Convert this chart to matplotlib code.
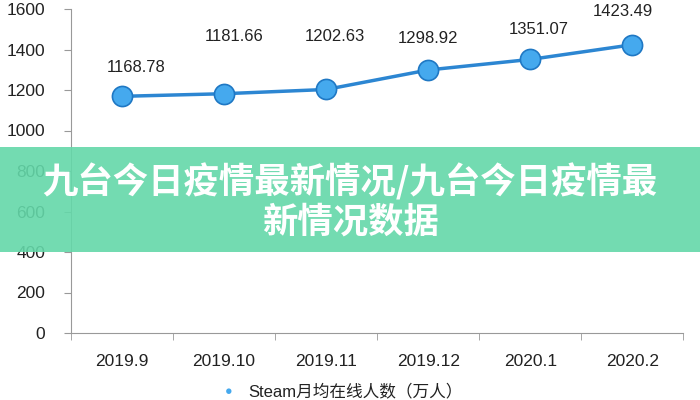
import matplotlib
matplotlib.use("Agg")
import matplotlib.pyplot as plt
from matplotlib.patches import Rectangle

plt.rcParams['font.family'] = ['Liberation Sans', 'Noto Sans CJK SC', 'DejaVu Sans']

months = ['2019.9', '2019.10', '2019.11', '2019.12', '2020.1', '2020.2']
players = [1168.78, 1181.66, 1202.63, 1298.92, 1351.07, 1423.49]
# value labels sit a bit irregularly in the source: offsets in points (dx, dy)
label_dx = [10, 7, 6, 0, 6, -7]
label_dy = [15, 36, 33, 17.5, 16, 18.5]
y_ticks = [0, 200, 400, 600, 800, 1000, 1200, 1400, 1600]
legend_text = 'Steam月均在线人数（万人）'
banner_text = '九台今日疫情最新情况/九台今日疫情最\n新情况数据'

fig = plt.figure(figsize=(7, 4), dpi=100)
ax = fig.add_axes([0.1014, 0.1675, 0.875, 0.81])

x = list(range(len(months)))
ax.plot(x, players, color='#2c86d2', linewidth=2.5, marker='o', markersize=14.5,
        markerfacecolor='#45a9ee', markeredgecolor='#1f78c4', markeredgewidth=1.2,
        zorder=3)
for xi, v, dx, dy in zip(x, players, label_dx, label_dy):
    ax.annotate(f'{v:.2f}', (xi, v), xytext=(dx, dy), textcoords='offset points',
                ha='center', va='bottom', fontsize=12, color='#222222')

ax.set_xlim(-0.5, len(months) - 0.5)
ax.set_ylim(0, 1600)
ax.set_yticks(y_ticks)
ax.set_xticks(x)
ax.set_xticklabels(months)
ax.set_xticks([i - 0.5 for i in range(len(months) + 1)], minor=True)
ax.tick_params(axis='x', which='major', length=0, pad=15, labelsize=12.5, colors='#222222')
ax.tick_params(axis='x', which='minor', length=5, color='#999999')
ax.tick_params(axis='y', length=5, color='#999999', labelsize=12.5, labelcolor='#222222', pad=13.5)
for s in ['top', 'right']:
    ax.spines[s].set_visible(False)
for s in ['left', 'bottom']:
    ax.spines[s].set_color('#999999')

# legend at the very bottom
fig.text(0.327, 0.02, '●', color='#45a9ee', fontsize=9, ha='center', va='center')
fig.text(0.355, 0.003, legend_text, fontsize=12, color='#222222', ha='left', va='bottom')

# green banner overlay (slightly see-through, the 800/600 ticks show through)
fig.patches.append(Rectangle((0, 0.37), 1, 0.2625, transform=fig.transFigure,
                             facecolor='#64d8a9', edgecolor='none', alpha=0.9, zorder=10))
fig.text(0.5, 0.497, banner_text, ha='center', va='center', color='white',
         fontsize=25.5, fontweight='bold', linespacing=1.15,
         family=['Noto Sans CJK SC', 'DejaVu Sans'], zorder=11)

fig.savefig('out.png', dpi=100)
